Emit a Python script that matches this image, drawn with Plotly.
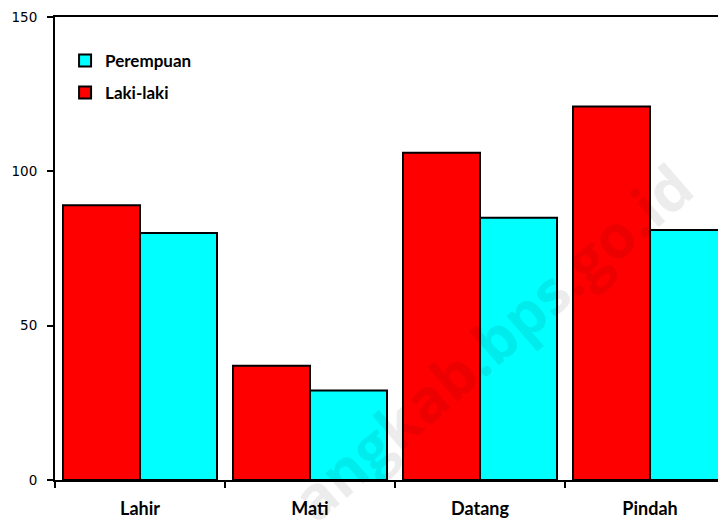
import plotly.graph_objects as go

categories = ["Lahir", "Mati", "Datang", "Pindah"]
laki_laki = [89, 37, 106, 121]
perempuan = [80, 29, 85, 81]
y_ticks = [0, 50, 100, 150]

fig = go.Figure()
fig.add_trace(go.Bar(
    x=categories, y=laki_laki, name="Laki-laki", legendgroup="l", legendrank=2,
    marker=dict(color="#FF0000", line=dict(color="black", width=2)),
))
fig.add_trace(go.Bar(
    x=categories, y=perempuan, name="Perempuan", legendgroup="p", legendrank=1,
    marker=dict(color="#00FFFF", line=dict(color="black", width=2)),
))

fig.add_annotation(
    text="angkab.bps.go.id", xref="paper", yref="paper",
    x=0.65, y=0.298, xanchor="center", yanchor="middle",
    showarrow=False, textangle=-41,
    font=dict(family="Open Sans", size=60, color="rgba(0,0,0,0.075)", weight="bold"),
)

fig.update_layout(
    width=718, height=515,
    margin=dict(l=47, r=0, t=9, b=43, pad=0),
    paper_bgcolor="white", plot_bgcolor="white",
    barmode="group", bargap=0.094, bargroupgap=0,
    showlegend=True,
    legend=dict(
        x=0.015, y=0.944, xanchor="left", yanchor="top",
        traceorder="grouped", tracegroupgap=7,
        font=dict(family="Lato", size=17, color="black", weight="bold"),
        bgcolor="rgba(0,0,0,0)", itemwidth=30,
    ),
    xaxis=dict(
        range=[-0.5, 3.447], tickson="boundaries", ticks="outside", ticklen=6,
        tickwidth=2, tickcolor="black",
        showline=True, linecolor="black", linewidth=2, mirror=True,
        showgrid=False, zeroline=False, ticklabelstandoff=11,
        tickfont=dict(family="Lato", size=18, color="black", weight="bold"),
    ),
    yaxis=dict(
        range=[0, 150], tickvals=y_ticks, ticks="outside", ticklen=6,
        tickwidth=2, tickcolor="black",
        showline=True, linecolor="black", linewidth=2,
        showgrid=False, zeroline=False, ticklabelstandoff=7,
        tickfont=dict(family="DejaVu Sans", size=13.5, color="black"),
    ),
)

fig.write_html("out.html")
